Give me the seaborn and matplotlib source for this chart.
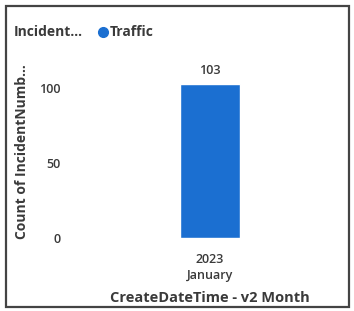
import matplotlib
matplotlib.use('Agg')
import matplotlib.pyplot as plt
import seaborn as sns
import pandas as pd
from matplotlib.patches import Rectangle
from matplotlib.lines import Line2D

# data
months = ['2023\nJanuary']
incident_type = ['Traffic']
counts = [103]

df = pd.DataFrame({'month': months, 'type': incident_type, 'count': counts})

sns.set_style('white')
plt.rcParams['font.family'] = ['Open Sans', 'DejaVu Sans']

blue = '#1b6fd1'
txt = '#3a3a3a'
W, H = 354, 311

fig = plt.figure(figsize=(3.54, 3.11), dpi=100)
ax = fig.add_axes([70/W, (H-238)/H, 280/W, (238-65.5)/H])

sns.barplot(data=df, x='month', y='count', color=blue, width=0.211, ax=ax,
            saturation=1, legend=False)
ax.set_xlim(-0.5, 0.5)
ax.set_ylim(0, 115)
ax.set_yticks([0, 50, 100])
for s in ax.spines.values():
    s.set_visible(False)
ax.tick_params(axis='both', length=0, colors=txt, labelsize=9)
ax.tick_params(axis='y', pad=7)
ax.tick_params(axis='x', pad=11)
for lab in ax.get_yticklabels() + ax.get_xticklabels():
    lab.set_fontweight('semibold')
for lab in ax.get_xticklabels():
    lab.set_linespacing(1.3)

ax.set_xlabel('CreateDateTime - v2 Month', fontsize=10.5, fontweight='bold', color=txt)
ax.xaxis.set_label_coords(0.5, (238-298)/172.5)
ax.xaxis.label.set_va('center')
ax.set_ylabel('Count of IncidentNumb...', fontsize=10, fontweight='bold', color=txt)
ax.yaxis.set_label_coords((22-70)/280, 0.5)
ax.yaxis.label.set_va('center')

for p, v in zip(ax.patches, counts):
    ax.text(p.get_x() + p.get_width()/2, v + 4, str(v), ha='center', va='bottom',
            fontsize=9, color=txt, fontweight='semibold')

# legend
ly = 1 - 32/H
fig.text(14/W, ly, 'Incident...', fontsize=10, fontweight='bold', color=txt, va='center')
fig.add_artist(Line2D([103/W], [ly], marker='o', color=blue, markersize=7,
                      transform=fig.transFigure))
fig.text(110/W, ly, 'Traffic', fontsize=10, fontweight='bold', color=txt, va='center')

# frame
fig.add_artist(Rectangle((6/W, 4/H), 343/W, 301/H, fill=False, edgecolor='#444444',
                         linewidth=1.6, transform=fig.transFigure))

fig.savefig('out.png', dpi=100)
